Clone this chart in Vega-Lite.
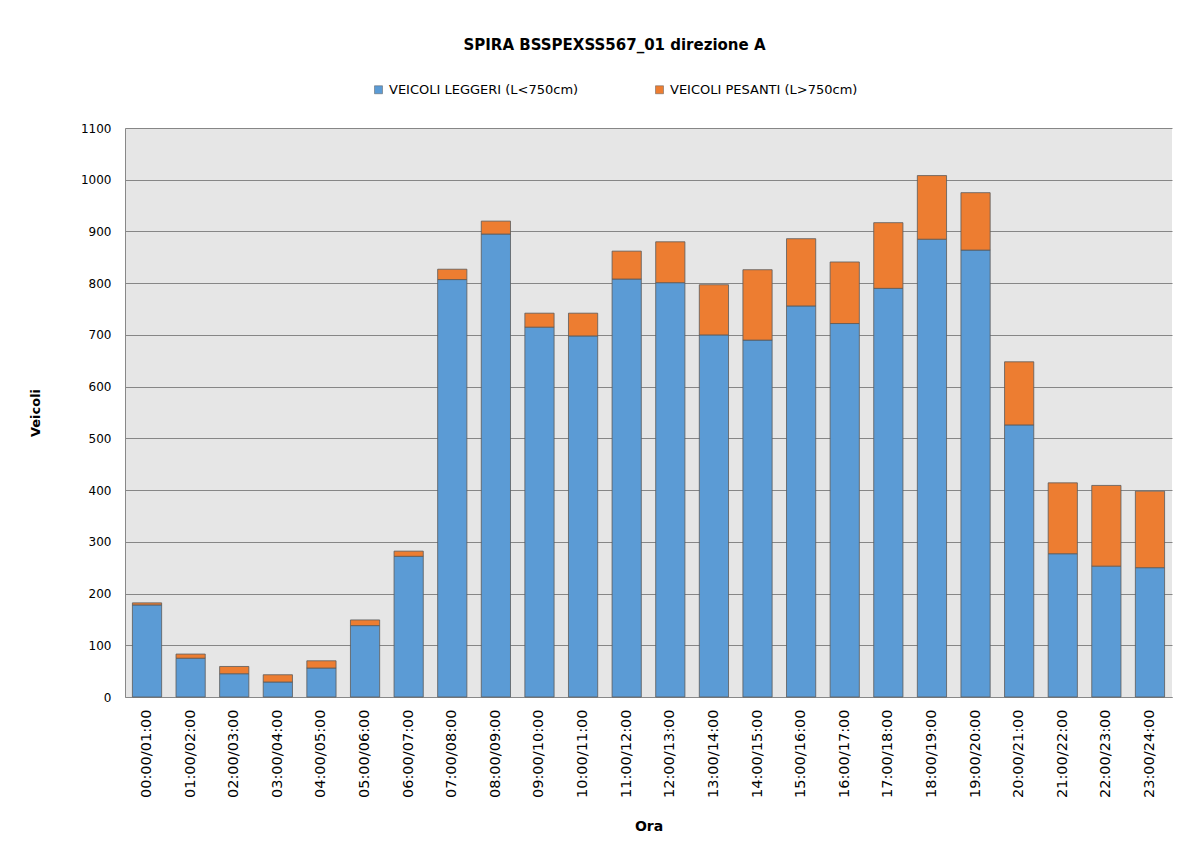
{
  "$schema": "https://vega.github.io/schema/vega-lite/v6.json",
  "autosize": {"type": "none"},
  "padding": {"left": 125, "top": 128, "right": 10, "bottom": 162},
  "width": 1047,
  "height": 569,
  "background": "white",
  "title": {
    "text": "SPIRA BSSPEXSS567_01  direzione A",
    "font": "DejaVu Sans",
    "fontSize": 15,
    "fontWeight": "bold",
    "color": "#000000",
    "anchor": "middle",
    "dx": -34,
    "offset": 30
  },
  "config": {
    "view": {"fill": "#e6e6e6", "stroke": null},
    "axis": {"labelFont": "DejaVu Sans", "titleFont": "DejaVu Sans", "labelColor": "#000000", "titleColor": "#000000"}
  },
  "data": {
    "values": [
      {"ora": "00:00/01:00", "tipo": "VEICOLI LEGGERI (L<750cm)", "ord": 1, "veicoli": 178},
      {"ora": "00:00/01:00", "tipo": "VEICOLI PESANTI (L>750cm)", "ord": 2, "veicoli": 4},
      {"ora": "01:00/02:00", "tipo": "VEICOLI LEGGERI (L<750cm)", "ord": 1, "veicoli": 75},
      {"ora": "01:00/02:00", "tipo": "VEICOLI PESANTI (L>750cm)", "ord": 2, "veicoli": 8},
      {"ora": "02:00/03:00", "tipo": "VEICOLI LEGGERI (L<750cm)", "ord": 1, "veicoli": 45},
      {"ora": "02:00/03:00", "tipo": "VEICOLI PESANTI (L>750cm)", "ord": 2, "veicoli": 14},
      {"ora": "03:00/04:00", "tipo": "VEICOLI LEGGERI (L<750cm)", "ord": 1, "veicoli": 29},
      {"ora": "03:00/04:00", "tipo": "VEICOLI PESANTI (L>750cm)", "ord": 2, "veicoli": 14},
      {"ora": "04:00/05:00", "tipo": "VEICOLI LEGGERI (L<750cm)", "ord": 1, "veicoli": 56},
      {"ora": "04:00/05:00", "tipo": "VEICOLI PESANTI (L>750cm)", "ord": 2, "veicoli": 14},
      {"ora": "05:00/06:00", "tipo": "VEICOLI LEGGERI (L<750cm)", "ord": 1, "veicoli": 138},
      {"ora": "05:00/06:00", "tipo": "VEICOLI PESANTI (L>750cm)", "ord": 2, "veicoli": 11},
      {"ora": "06:00/07:00", "tipo": "VEICOLI LEGGERI (L<750cm)", "ord": 1, "veicoli": 272},
      {"ora": "06:00/07:00", "tipo": "VEICOLI PESANTI (L>750cm)", "ord": 2, "veicoli": 10},
      {"ora": "07:00/08:00", "tipo": "VEICOLI LEGGERI (L<750cm)", "ord": 1, "veicoli": 807},
      {"ora": "07:00/08:00", "tipo": "VEICOLI PESANTI (L>750cm)", "ord": 2, "veicoli": 20},
      {"ora": "08:00/09:00", "tipo": "VEICOLI LEGGERI (L<750cm)", "ord": 1, "veicoli": 895},
      {"ora": "08:00/09:00", "tipo": "VEICOLI PESANTI (L>750cm)", "ord": 2, "veicoli": 25},
      {"ora": "09:00/10:00", "tipo": "VEICOLI LEGGERI (L<750cm)", "ord": 1, "veicoli": 715},
      {"ora": "09:00/10:00", "tipo": "VEICOLI PESANTI (L>750cm)", "ord": 2, "veicoli": 27},
      {"ora": "10:00/11:00", "tipo": "VEICOLI LEGGERI (L<750cm)", "ord": 1, "veicoli": 698},
      {"ora": "10:00/11:00", "tipo": "VEICOLI PESANTI (L>750cm)", "ord": 2, "veicoli": 44},
      {"ora": "11:00/12:00", "tipo": "VEICOLI LEGGERI (L<750cm)", "ord": 1, "veicoli": 808},
      {"ora": "11:00/12:00", "tipo": "VEICOLI PESANTI (L>750cm)", "ord": 2, "veicoli": 54},
      {"ora": "12:00/13:00", "tipo": "VEICOLI LEGGERI (L<750cm)", "ord": 1, "veicoli": 801},
      {"ora": "12:00/13:00", "tipo": "VEICOLI PESANTI (L>750cm)", "ord": 2, "veicoli": 79},
      {"ora": "13:00/14:00", "tipo": "VEICOLI LEGGERI (L<750cm)", "ord": 1, "veicoli": 700},
      {"ora": "13:00/14:00", "tipo": "VEICOLI PESANTI (L>750cm)", "ord": 2, "veicoli": 97},
      {"ora": "14:00/15:00", "tipo": "VEICOLI LEGGERI (L<750cm)", "ord": 1, "veicoli": 690},
      {"ora": "14:00/15:00", "tipo": "VEICOLI PESANTI (L>750cm)", "ord": 2, "veicoli": 136},
      {"ora": "15:00/16:00", "tipo": "VEICOLI LEGGERI (L<750cm)", "ord": 1, "veicoli": 756},
      {"ora": "15:00/16:00", "tipo": "VEICOLI PESANTI (L>750cm)", "ord": 2, "veicoli": 130},
      {"ora": "16:00/17:00", "tipo": "VEICOLI LEGGERI (L<750cm)", "ord": 1, "veicoli": 722},
      {"ora": "16:00/17:00", "tipo": "VEICOLI PESANTI (L>750cm)", "ord": 2, "veicoli": 119},
      {"ora": "17:00/18:00", "tipo": "VEICOLI LEGGERI (L<750cm)", "ord": 1, "veicoli": 790},
      {"ora": "17:00/18:00", "tipo": "VEICOLI PESANTI (L>750cm)", "ord": 2, "veicoli": 127},
      {"ora": "18:00/19:00", "tipo": "VEICOLI LEGGERI (L<750cm)", "ord": 1, "veicoli": 885},
      {"ora": "18:00/19:00", "tipo": "VEICOLI PESANTI (L>750cm)", "ord": 2, "veicoli": 123},
      {"ora": "19:00/20:00", "tipo": "VEICOLI LEGGERI (L<750cm)", "ord": 1, "veicoli": 864},
      {"ora": "19:00/20:00", "tipo": "VEICOLI PESANTI (L>750cm)", "ord": 2, "veicoli": 111},
      {"ora": "20:00/21:00", "tipo": "VEICOLI LEGGERI (L<750cm)", "ord": 1, "veicoli": 526},
      {"ora": "20:00/21:00", "tipo": "VEICOLI PESANTI (L>750cm)", "ord": 2, "veicoli": 122},
      {"ora": "21:00/22:00", "tipo": "VEICOLI LEGGERI (L<750cm)", "ord": 1, "veicoli": 277},
      {"ora": "21:00/22:00", "tipo": "VEICOLI PESANTI (L>750cm)", "ord": 2, "veicoli": 137},
      {"ora": "22:00/23:00", "tipo": "VEICOLI LEGGERI (L<750cm)", "ord": 1, "veicoli": 253},
      {"ora": "22:00/23:00", "tipo": "VEICOLI PESANTI (L>750cm)", "ord": 2, "veicoli": 156},
      {"ora": "23:00/24:00", "tipo": "VEICOLI LEGGERI (L<750cm)", "ord": 1, "veicoli": 250},
      {"ora": "23:00/24:00", "tipo": "VEICOLI PESANTI (L>750cm)", "ord": 2, "veicoli": 148}
    ]
  },
  "mark": {"type": "bar", "stroke": "#5a5a5a", "strokeWidth": 0.8},
  "encoding": {
    "x": {
      "field": "ora",
      "type": "nominal",
      "sort": null,
      "scale": {"paddingInner": 0.33, "paddingOuter": 0.17},
      "axis": {
        "title": "Ora",
        "titleFontSize": 14,
        "titleFontWeight": "bold",
        "titlePadding": 22,
        "labelAngle": -90,
        "labelFontSize": 14.5,
        "labelPadding": 12,
        "ticks": false,
        "domainColor": "#888888"
      }
    },
    "y": {
      "field": "veicoli",
      "type": "quantitative",
      "stack": "zero",
      "scale": {"domain": [0, 1100], "nice": false},
      "axis": {
        "title": "Veicoli",
        "titleFontSize": 13,
        "titleFontWeight": "bold",
        "titlePadding": 38,
        "values": [0, 100, 200, 300, 400, 500, 600, 700, 800, 900, 1000, 1100],
        "format": "d",
        "labelFontSize": 12,
        "labelPadding": 14,
        "ticks": false,
        "domainColor": "#888888",
        "gridColor": "#868686",
        "gridOpacity": 1,
        "gridWidth": 1
      }
    },
    "color": {
      "field": "tipo",
      "type": "nominal",
      "scale": {"domain": ["VEICOLI LEGGERI (L<750cm)", "VEICOLI PESANTI (L>750cm)"], "range": ["#5b9bd5", "#ed7d31"]},
      "legend": {
        "title": null,
        "orient": "none",
        "direction": "horizontal",
        "legendX": 247,
        "legendY": -45,
        "symbolType": "square",
        "symbolSize": 64,
        "symbolStrokeColor": "#5a5a5a",
        "symbolStrokeWidth": 0.5,
        "labelFont": "DejaVu Sans",
        "labelFontSize": 13,
        "labelColor": "#000000",
        "labelOffset": 4,
        "columnPadding": 74,
        "labelLimit": 400
      }
    },
    "order": {"field": "ord", "type": "quantitative"}
  }
}
